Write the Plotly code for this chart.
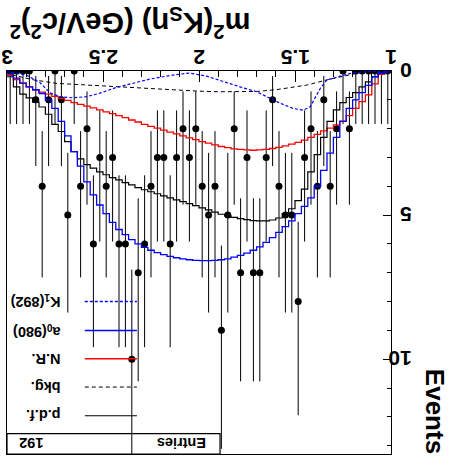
import math
import plotly.graph_objects as go

# ---- histogram binning -------------------------------------------------------
X_LO, X_HI, N_BINS = 1.0, 3.0, 60

# observed events per bin (bin 0 starts at m^2 = 1)
counts = [0, 0, 0, 0, 0, 0, 2, 0, 2, 4,
          1, 4, 2, 3, 8, 5, 5, 4, 1, 3,
          7, 7, 3, 7, 2, 5, 9, 4, 5, 4,
          2, 3, 2, 3, 6, 3, 3, 4, 6, 7,
          10, 6, 6, 3, 4, 3, 6, 2, 4, 0,
          5, 1, 0, 1, 4, 1, 0, 0, 0, 0]

# fit projections, per bin
pdf_vals = [0.02, 0.07, 0.20, 0.38, 0.55, 0.75, 0.92, 1.10, 1.35, 1.75,
            2.30, 2.90, 3.50, 4.10, 4.50, 4.78, 4.95, 5.10, 5.17, 5.20,
            5.20, 5.19, 5.16, 5.12, 5.08, 5.03, 4.97, 4.90, 4.82, 4.75,
            4.67, 4.60, 4.53, 4.47, 4.40, 4.33, 4.26, 4.19, 4.12, 4.05,
            3.95, 3.87, 3.78, 3.70, 3.60, 3.50, 3.37, 3.25, 3.05, 2.80,
            2.45, 2.10, 1.85, 1.50, 1.25, 1.08, 0.93, 0.80, 0.55, 0.20]

nr_vals = [0.02, 0.12, 0.45, 0.83, 1.06, 1.30, 1.55, 1.74, 1.87, 1.98,
           2.08, 2.20, 2.30, 2.40, 2.48, 2.54, 2.60, 2.65, 2.69, 2.72,
           2.74, 2.75, 2.74, 2.72, 2.70, 2.66, 2.62, 2.56, 2.50, 2.45,
           2.38, 2.32, 2.25, 2.18, 2.12, 2.05, 1.98, 1.92, 1.85, 1.77,
           1.70, 1.62, 1.55, 1.48, 1.42, 1.35, 1.28, 1.22, 1.16, 1.10,
           1.02, 0.95, 0.88, 0.80, 0.73, 0.65, 0.55, 0.42, 0.30, 0.15]

a0_vals = [0.02, 0.07, 0.20, 0.50, 0.75, 1.00, 1.30, 1.75, 2.30, 2.85,
           3.45, 4.00, 4.40, 4.70, 4.95, 5.20, 5.40, 5.60, 5.78, 5.95,
           6.10, 6.22, 6.32, 6.40, 6.46, 6.52, 6.55, 6.57, 6.58, 6.58,
           6.57, 6.55, 6.52, 6.48, 6.43, 6.37, 6.30, 6.22, 6.12, 6.00,
           5.85, 5.68, 5.50, 5.25, 4.95, 4.65, 4.30, 3.85, 3.30, 2.80,
           2.25, 1.75, 1.30, 1.00, 0.78, 0.65, 0.55, 0.42, 0.25, 0.10]

# smooth components
bkg_x = [1.0, 1.09, 1.18, 1.265, 1.334, 1.44, 1.525, 1.6, 1.7, 1.8,
         1.9, 2.0, 2.17, 2.34, 2.52, 2.74, 2.86, 2.97, 3.0]
bkg_y = [0.0, 0.02, 0.08, 0.20, 0.31, 0.49, 0.58, 0.65, 0.71, 0.72,
         0.72, 0.70, 0.64, 0.58, 0.52, 0.43, 0.31, 0.14, 0.06]

kst_x = [1.0, 1.125, 1.21, 1.28, 1.334, 1.368, 1.395, 1.421, 1.457, 1.51,
         1.577, 1.647, 1.70, 1.786, 1.875, 1.96, 2.05, 2.136, 2.256, 2.344,
         2.43, 2.516, 2.586, 2.657, 2.725, 2.777, 2.829, 2.90, 3.0]
kst_y = [0.0, 0.02, 0.08, 0.20, 0.31, 0.60, 0.95, 1.24, 1.36, 1.30,
         1.12, 0.89, 0.72, 0.55, 0.37, 0.18, 0.07, 0.14, 0.28, 0.43,
         0.57, 0.77, 0.89, 0.93, 0.89, 0.75, 0.40, 0.14, 0.02]

x_tick_vals = [1, 1.5, 2, 2.5, 3]
x_tick_labels = ["1", "1.5", "2", "2.5", "3"]
y_tick_vals = [0, 5, 10]
y_tick_labels = ["0", "5", "10"]

legend_labels = ["p.d.f.", "bkg.", "N.R.", "a<sub>0</sub>(980)", "K<sub>1</sub>(892)"]
n_entries = 192

Y_MAX = 13.29

# ---- derived quantities --------------------------------------------------------
width = (X_HI - X_LO) / N_BINS
edges = [X_LO + k * width for k in range(N_BINS + 1)]
centers = [X_LO + (k + 0.5) * width for k in range(N_BINS)]


def poisson_cdf(k, lam):
    if k < 0:
        return 0.0
    term = math.exp(-lam)
    total = term
    for j in range(1, k + 1):
        term *= lam / j
        total += term
    return total


def solve(f, target, lo=0.0, hi=60.0):
    # f decreasing in lam
    for _ in range(80):
        mid = 0.5 * (lo + hi)
        if f(mid) > target:
            lo = mid
        else:
            hi = mid
    return 0.5 * (lo + hi)


ALPHA_HALF = 0.5 * (1 - 0.682689)


def garwood(n):
    up = solve(lambda l: poisson_cdf(n, l), ALPHA_HALF) - n
    if n == 0:
        return 0.0, up
    low_lam = solve(lambda l: poisson_cdf(n - 1, l), 1 - ALPHA_HALF)
    return n - low_lam, up


err_lo, err_hi = zip(*[garwood(n) for n in counts])

# ---- geometry of the canvas ----------------------------------------------------
W, H = 454, 465
PL, PR, PT, PB = 7.3, 390.7, 71.0, 454.3


def fx(px):
    return (px - PL) / (PR - PL)


def fy(py):
    return (PB - py) / (PB - PT)


FONT = "Liberation Sans, Arial, Helvetica, sans-serif"
BLUE, RED = "#0000ff", "#ff0000"

fig = go.Figure()

# data with Poisson errors
fig.add_trace(go.Scatter(
    x=centers, y=counts, mode="markers",
    marker=dict(color="black", size=7),
    error_y=dict(type="data", symmetric=False, array=list(err_hi),
                 arrayminus=list(err_lo), color="black", thickness=1, width=0),
    showlegend=False,
))


def step(vals, color, w):
    fig.add_trace(go.Scatter(
        x=edges, y=list(vals) + [vals[-1]], mode="lines", line_shape="hv",
        line=dict(color=color, width=w), showlegend=False,
    ))


step(nr_vals, RED, 1.3)
step(pdf_vals, "#000000", 1.2)
step(a0_vals, BLUE, 1.3)

fig.add_trace(go.Scatter(x=bkg_x, y=bkg_y, mode="lines",
                         line=dict(color="black", width=1, dash="4px,3px"),
                         showlegend=False))
fig.add_trace(go.Scatter(x=kst_x, y=kst_y, mode="lines",
                         line=dict(color=BLUE, width=1.2, dash="3px,2px"),
                         showlegend=False))

annotations = []
tick_font = dict(family=FONT, size=21, color="black", weight="bold")
for v, t in zip(x_tick_vals, x_tick_labels):
    annotations.append(dict(x=v, xref="x", y=fy(57.5), yref="paper", text=t,
                            showarrow=False, textangle=180, font=tick_font,
                            xanchor="center", yanchor="middle"))
for v, t in zip(y_tick_vals, y_tick_labels):
    annotations.append(dict(x=fx(413), xref="paper", y=v, yref="y", text=t,
                            showarrow=False, textangle=180, font=tick_font,
                            xanchor="right", yanchor="middle"))

# axis titles
annotations.append(dict(
    x=fx(8), xref="paper", y=fy(23), yref="paper",
    text="m<sup>2</sup>(K<sub>S</sub>η) (GeV/c<sup>2</sup>)<sup>2</sup>",
    showarrow=False, textangle=180, xanchor="left", yanchor="middle",
    font=dict(family=FONT, size=29, color="black", weight="bold")))
annotations.append(dict(
    x=fx(434), xref="paper", y=fy(456), yref="paper", text="Events",
    showarrow=False, textangle=90, xanchor="center", yanchor="bottom",
    font=dict(family=FONT, size=26, color="black", weight="bold")))

# legend
shapes = []
leg_y = [416, 387.3, 359, 330.7, 301.7]
leg_style = [("black", "solid", 1.2), ("black", "4px,3px", 1), (RED, "solid", 1.3),
             (BLUE, "solid", 1.3), (BLUE, "3px,2px", 1.3)]
leg_font = dict(family=FONT, size=14.5, color="black", weight="bold")
for lab, ly, (c, d, w) in zip(legend_labels, leg_y, leg_style):
    shapes.append(dict(type="line", xref="paper", yref="paper",
                       x0=fx(85), x1=fx(137), y0=fy(ly), y1=fy(ly),
                       line=dict(color=c, dash=d, width=w)))
    annotations.append(dict(x=fx(63), xref="paper", y=fy(ly), yref="paper",
                            text=lab, showarrow=False, textangle=180,
                            xanchor="right", yanchor="middle", font=leg_font))

# statistics box
shapes.append(dict(type="rect", xref="paper", yref="paper",
                   x0=fx(PL), x1=fx(220), y0=fy(PB), y1=fy(434),
                   line=dict(color="black", width=1.2), fillcolor="rgba(0,0,0,0)"))
stat_font = dict(family=FONT, size=14.5, color="black", weight="bold")
annotations.append(dict(x=fx(208), xref="paper", y=fy(444), yref="paper",
                        text="Entries", showarrow=False, textangle=180,
                        xanchor="right", yanchor="middle", font=stat_font))
annotations.append(dict(x=fx(18), xref="paper", y=fy(444), yref="paper",
                        text=str(n_entries), showarrow=False, textangle=180,
                        xanchor="left", yanchor="middle", font=stat_font))

fig.update_layout(
    width=W, height=H,
    margin=dict(l=PL, r=W - PR, t=PT, b=H - PB, pad=0, autoexpand=False),
    paper_bgcolor="white", plot_bgcolor="white",
    showlegend=False,
    xaxis=dict(range=[X_HI, X_LO], side="top", showline=True, linecolor="black",
               linewidth=1, mirror=True, ticks="inside", tick0=1, dtick=0.5,
               ticklen=11, tickcolor="black", tickwidth=1, showticklabels=False,
               showgrid=False, zeroline=False, automargin=False,
               minor=dict(dtick=0.1, tick0=1, ticks="inside", ticklen=6,
                          tickcolor="black", tickwidth=1, showgrid=False)),
    yaxis=dict(range=[Y_MAX, 0], side="right", showline=True, linecolor="black",
               linewidth=1, mirror=True, ticks="inside", tick0=0, dtick=5,
               ticklen=8, tickcolor="black", tickwidth=1, showticklabels=False,
               showgrid=False, zeroline=False, automargin=False,
               minor=dict(dtick=1, tick0=0, ticks="inside", ticklen=4,
                          tickcolor="black", tickwidth=1, showgrid=False)),
    annotations=annotations,
    shapes=shapes,
)

fig.write_html("out.html")
